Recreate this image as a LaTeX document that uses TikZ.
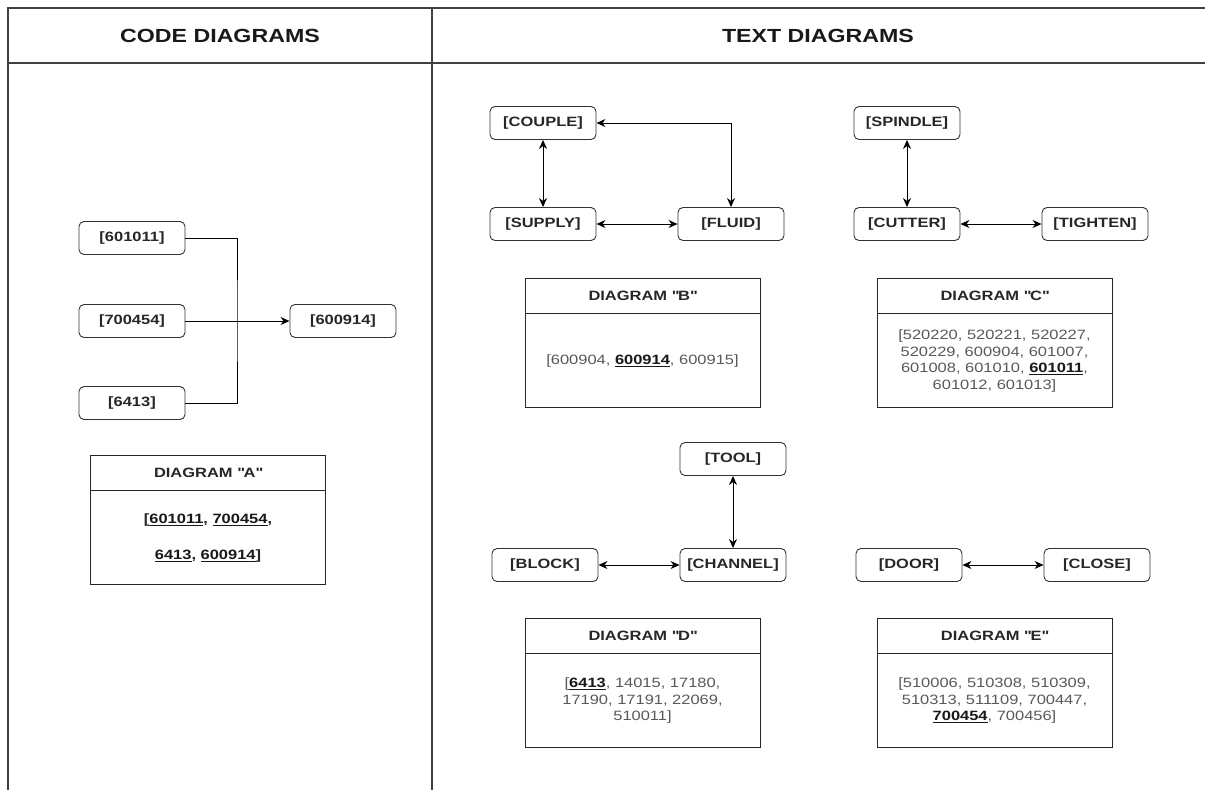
\documentclass[tikz,border=0pt]{standalone}
\usepackage{fontspec}
\setmainfont{Liberation Sans}[FakeStretch=1.22]
\usetikzlibrary{positioning,arrows.meta}

\newcommand{\keyno}[1]{{\bfseries\color{black!90}\underline{#1}}}

\tikzset{
    frame/.style={black!75, line width=1.2pt},
    colhead/.style={font=\fontsize{19}{22}\selectfont\bfseries, text=black!90},
    tag/.style={draw=black!80, line width=0.9pt, rounded corners=5pt, minimum width=106pt, minimum height=33pt,
        font=\fontsize{13.5}{16}\selectfont\bfseries, text=black!85},
    tabhead/.style={draw=black!85, line width=0.9pt, minimum width=235pt, minimum height=35pt,
        font=\fontsize{13.5}{16}\selectfont\bfseries, text=black!85},
    tabbody/.style={draw=black!85, line width=0.9pt, minimum width=235pt, minimum height=94pt, align=center,
        font=\fontsize{13.5}{16.5}\selectfont, text=black!65},
    link/.style={black, line width=0.9pt},
    oneway/.style={link, -{Stealth[length=9pt, width=8pt]}},
    twoway/.style={link, {Stealth[length=9pt, width=8pt]}-{Stealth[length=9pt, width=8pt]}},
}

\begin{document}
\begin{tikzpicture}[x=1pt, y=-1pt]
    % Page area (pixels of the reference, y pointing down)
    \useasboundingbox (0,0) rectangle (1205,790);

    % Outer frame and column split
    \draw[frame] (8,790) -- (8,8) -- (1205,8);
    \draw[frame] (8,63) -- (1205,63);
    \draw[frame] (432,8) -- (432,790);
    \node[colhead] (codehead) at (220,36) {CODE DIAGRAMS};
    \node[colhead] (texthead) at (818,36) {TEXT DIAGRAMS};

    % Code diagram: three codes merge into one
    \node[tag] (c601011) at (132,238) {[601011]};
    \node[tag] (c700454) at (132,321) {[700454]};
    \node[tag] (c6413)   at (132,403) {[6413]};
    \node[tag] (c600914) at (343,321) {[600914]};
    \coordinate (bus) at (237,321);
    \draw[link] (c601011.east) -| (bus) |- (c6413.east);
    \draw[oneway] (c700454.east) -- (c600914.west);

    \node[tabhead] (headA) at (208,472.5) {DIAGRAM \textquotedbl A\textquotedbl};
    \node[tabbody, below=0pt of headA, font=\fontsize{13.5}{36}\selectfont\bfseries, text=black!85] (bodyA)
        {[\keyno{601011}, \keyno{700454},\\ \keyno{6413}, \keyno{600914}]};

    % Text diagram B
    \node[tag] (couple) at (543,123) {[COUPLE]};
    \node[tag] (supply) at (543,224) {[SUPPLY]};
    \node[tag] (fluid)  at (731,224) {[FLUID]};
    \draw[twoway] (couple.south) -- (supply.north);
    \draw[twoway] (supply.east) -- (fluid.west);
    \draw[twoway] (couple.east) -| (fluid.north);

    \node[tabhead] (headB) at (642.5,295.5) {DIAGRAM \textquotedbl B\textquotedbl};
    \node[tabbody, below=0pt of headB] (bodyB) {[600904, \keyno{600914}, 600915]};

    % Text diagram C
    \node[tag] (spindle) at (907,123) {[SPINDLE]};
    \node[tag] (cutter)  at (907,224) {[CUTTER]};
    \node[tag] (tighten) at (1095,224) {[TIGHTEN]};
    \draw[twoway] (spindle.south) -- (cutter.north);
    \draw[twoway] (cutter.east) -- (tighten.west);

    \node[tabhead] (headC) at (994.5,295.5) {DIAGRAM \textquotedbl C\textquotedbl};
    \node[tabbody, below=0pt of headC] (bodyC)
        {[520220, 520221, 520227,\\ 520229, 600904, 601007,\\ 601008, 601010, \keyno{601011},\\ 601012, 601013]};

    % Text diagram D
    \node[tag] (tool)    at (733,459) {[TOOL]};
    \node[tag] (channel) at (733,565) {[CHANNEL]};
    \node[tag] (block)   at (545,565) {[BLOCK]};
    \draw[twoway] (tool.south) -- (channel.north);
    \draw[twoway] (block.east) -- (channel.west);

    \node[tabhead] (headD) at (642.5,635.5) {DIAGRAM \textquotedbl D\textquotedbl};
    \node[tabbody, below=0pt of headD] (bodyD)
        {[\keyno{6413}, 14015, 17180,\\ 17190, 17191, 22069,\\ 510011]};

    % Text diagram E
    \node[tag] (door)  at (909,565) {[DOOR]};
    \node[tag] (close) at (1097,565) {[CLOSE]};
    \draw[twoway] (door.east) -- (close.west);

    \node[tabhead] (headE) at (994.5,635.5) {DIAGRAM \textquotedbl E\textquotedbl};
    \node[tabbody, below=0pt of headE] (bodyE)
        {[510006, 510308, 510309,\\ 510313, 511109, 700447,\\ \keyno{700454}, 700456]};
\end{tikzpicture}
\end{document}
